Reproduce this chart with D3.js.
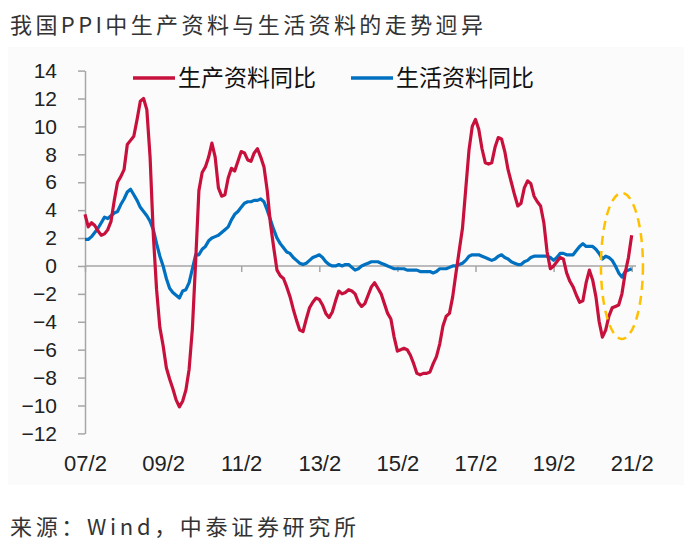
<!DOCTYPE html>
<html>
<head>
<meta charset="utf-8">
<script src="https://cdn.jsdelivr.net/npm/d3@7"></script>
<style>
  body { margin: 0; background: #fff; }
  text { font-family: "Liberation Sans", Arial, sans-serif; }
  .cjk { font-family: "Noto Sans CJK SC", "Noto Sans", sans-serif; }
</style>
</head>
<body>
<div id="chart"></div>
<script>
// monthly series, 2007-02 .. 2021-02 (yoy, %)
var producerGoods = [
  3.7, 2.8, 3.1, 2.9, 2.5, 2.2, 2.3, 2.6, 3.2, 4.7, 6.0,                 // 2007
  6.4, 6.9, 8.7, 9.0, 9.3, 10.5, 11.8, 12.0, 11.2, 7.8, 2.2, -1.7,        // 2008
  -4.4, -5.7, -7.3, -8.1, -8.8, -9.6, -10.1, -9.7, -8.9, -7.4, -4.5, 0.3, // 2009
  5.4, 6.7, 7.1, 7.8, 8.8, 7.8, 5.6, 5.0, 5.1, 6.3, 7.0, 6.8,            // 2010
  7.5, 8.2, 8.1, 7.6, 7.5, 8.1, 8.4, 7.8, 7.1, 5.4, 3.0, 1.3,            // 2011
  -0.3, -0.7, -0.9, -1.5, -2.2, -3.1, -3.9, -4.6, -4.7, -3.8, -3.0, -2.6, // 2012
  -2.3, -2.4, -2.8, -3.4, -3.7, -3.3, -2.5, -1.8, -2.0, -1.9, -1.7, -1.8, // 2013
  -2.0, -2.6, -2.9, -2.7, -2.1, -1.5, -1.2, -1.6, -2.0, -2.7, -3.4, -3.8, // 2014
  -5.1, -6.1, -6.0, -5.9, -6.0, -6.4, -7.0, -7.7, -7.8, -7.7, -7.7, -7.6, // 2015
  -7.0, -6.5, -5.6, -4.3, -3.6, -3.4, -2.2, -0.5, 1.1, 2.7, 5.5, 8.3,    // 2016
  10.0, 10.5, 9.8, 8.4, 7.4, 7.3, 7.4, 8.5, 9.2, 9.1, 8.2, 6.9,          // 2017
  6.0, 5.1, 4.3, 4.5, 5.6, 6.1, 5.9, 5.0, 4.6, 4.3, 3.1, 1.0,            // 2018
  -0.2, 0.0, 0.3, 0.6, 0.5, -0.5, -1.1, -1.5, -2.1, -2.6, -2.5, -1.2,    // 2019
  -0.3, -1.0, -2.2, -4.0, -5.1, -4.6, -3.6, -3.0, -2.9, -2.8, -2.0, -0.5, // 2020
  0.6, 2.2                                                               // 2021
];
var consumerGoods = [
  1.9, 1.9, 2.1, 2.4, 2.7, 3.1, 3.5, 3.4, 3.6, 3.8, 3.9,
  4.4, 4.8, 5.3, 5.5, 5.1, 4.7, 4.2, 3.9, 3.6, 3.2, 2.6, 1.6,
  0.7, 0.0, -0.9, -1.6, -1.9, -2.1, -2.3, -1.8, -1.7, -1.2, -0.2, 0.8,
  0.8, 1.2, 1.4, 1.8, 2.0, 2.1, 2.2, 2.4, 2.6, 2.8, 3.3, 3.7,
  3.9, 4.2, 4.5, 4.6, 4.6, 4.7, 4.7, 4.8, 4.6, 4.0, 3.3, 2.6,
  2.0, 1.6, 1.3, 1.0, 0.9, 0.6, 0.4, 0.2, 0.1, 0.2, 0.4, 0.6,
  0.7, 0.8, 0.6, 0.3, 0.1, 0.0, 0.0, 0.1, 0.0, 0.1, 0.1, -0.1,
  -0.3, -0.2, 0.0, 0.1, 0.2, 0.3, 0.3, 0.3, 0.2, 0.1, 0.0, -0.1,
  -0.2, -0.2, -0.2, -0.2, -0.3, -0.3, -0.3, -0.3, -0.4, -0.4, -0.4, -0.4,
  -0.5, -0.4, -0.2, -0.2, -0.2, -0.1, 0.0, 0.0, 0.1, 0.2, 0.4, 0.7,
  0.8, 0.8, 0.8, 0.7, 0.6, 0.5, 0.4, 0.5, 0.7, 0.8, 0.6, 0.5,
  0.3, 0.2, 0.1, 0.1, 0.3, 0.4, 0.6, 0.7, 0.7, 0.7, 0.7, 0.7,
  0.6, 0.4, 0.6, 0.9, 0.9, 0.8, 0.8, 0.8, 1.1, 1.4, 1.6, 1.4,
  1.4, 1.4, 1.2, 0.9, 0.5, 0.7, 0.6, 0.4, 0.0, -0.5, -0.8, -0.4,
  -0.3, -0.2
];
var seriesNames = ["生产资料同比", "生活资料同比"];
var tickMonths = ["2007-02", "2009-02", "2011-02", "2013-02", "2015-02", "2017-02", "2019-02", "2021-02"];
var tickLabels = ["07/2", "09/2", "11/2", "13/2", "15/2", "17/2", "19/2", "21/2"];
var yTicks = [-12, -10, -8, -6, -4, -2, 0, 2, 4, 6, 8, 10, 12, 14];

//month categories
var months = [];
for (var i = 0; i < producerGoods.length; i++) {
  var yr = 2007 + Math.floor((1 + i) / 12),
      mo = ((1 + i) % 12) + 1;
  months.push(yr + "-" + (mo < 10 ? "0" + mo : mo));
}

var width = 684, height = 542;
var svg = d3.select("#chart").append("svg")
  .attr("width", width)
  .attr("height", height);

//faint chart panel
svg.append("rect")
  .attr("x", 8).attr("y", 47)
  .attr("width", 676).attr("height", 438)
  .attr("fill", "#fbfbfb");

var x = d3.scalePoint().domain(months).range([85, 631.7]);
var y = d3.scaleLinear().domain([-12, 14]).range([433.4, 70.6]);

//y axis
var yAxis = svg.append("g")
  .attr("transform", "translate(85,0)")
  .call(d3.axisLeft(y).tickValues(yTicks).tickSize(7).tickSizeOuter(0).tickPadding(21));
yAxis.select(".domain").attr("stroke", "#a6a6a6").attr("stroke-width", 1.5);
yAxis.selectAll(".tick line").attr("stroke", "#a6a6a6").attr("stroke-width", 1.5);
yAxis.selectAll(".tick text")
  .style("font-size", "21px")
  .attr("fill", "#222");

//zero line + x ticks
svg.append("line")
  .attr("x1", 85).attr("x2", 636)
  .attr("y1", y(0)).attr("y2", y(0))
  .attr("stroke", "#a6a6a6").attr("stroke-width", 1.5);
var xAxis = svg.append("g")
  .attr("transform", "translate(0," + y(0) + ")")
  .call(d3.axisBottom(x).tickValues(tickMonths).tickSize(6)
    .tickFormat(function(d, i) { return tickLabels[i]; }));
xAxis.select(".domain").remove();
xAxis.selectAll(".tick line").attr("stroke", "#a6a6a6").attr("stroke-width", 1.5);
xAxis.selectAll(".tick text")
  .attr("y", y(-12) - y(0) + 22)
  .attr("dy", "0.71em")
  .style("font-size", "22px")
  .attr("fill", "#222");

//lines
var line = d3.line()
  .x(function(d, i) { return x(months[i]); })
  .y(function(d) { return y(d); });

svg.append("path")
  .datum(consumerGoods)
  .attr("fill", "none")
  .attr("stroke", "#0070c0")
  .attr("stroke-width", 3.2)
  .attr("stroke-linejoin", "round")
  .attr("d", line);

svg.append("path")
  .datum(producerGoods)
  .attr("fill", "none")
  .attr("stroke", "#c8103c")
  .attr("stroke-width", 3.2)
  .attr("stroke-linejoin", "round")
  .attr("d", line);

//highlight ellipse
svg.append("ellipse")
  .attr("cx", x("2020-11"))
  .attr("cy", y(0))
  .attr("rx", 21)
  .attr("ry", 73)
  .attr("fill", "none")
  .attr("stroke", "#ffc000")
  .attr("stroke-width", 2.5)
  .attr("stroke-dasharray", "9,6");

//legend
var legendColors = ["#c8103c", "#0070c0"],
    legendX = [133, 351];
seriesNames.forEach(function(name, i) {
  svg.append("line")
    .attr("x1", legendX[i]).attr("x2", legendX[i] + 42)
    .attr("y1", 78).attr("y2", 78)
    .attr("stroke", legendColors[i])
    .attr("stroke-width", 3.5);
  svg.append("text")
    .attr("class", "cjk")
    .attr("x", legendX[i] + 45)
    .attr("y", 86)
    .style("font-size", "23px")
    .attr("fill", "#111")
    .text(name);
});

//title and source
svg.append("text")
  .attr("class", "cjk")
  .attr("x", 10).attr("y", 33)
  .attr("textLength", 473)
  .attr("lengthAdjust", "spacing")
  .style("font-size", "22px")
  .attr("fill", "#333")
  .text("我国PPI中生产资料与生活资料的走势迥异");

svg.append("text")
  .attr("class", "cjk")
  .attr("x", 10).attr("y", 535)
  .attr("textLength", 346)
  .attr("lengthAdjust", "spacing")
  .style("font-size", "22px")
  .attr("fill", "#333")
  .text("来源：Wind，中泰证券研究所");
</script>
</body>
</html>
